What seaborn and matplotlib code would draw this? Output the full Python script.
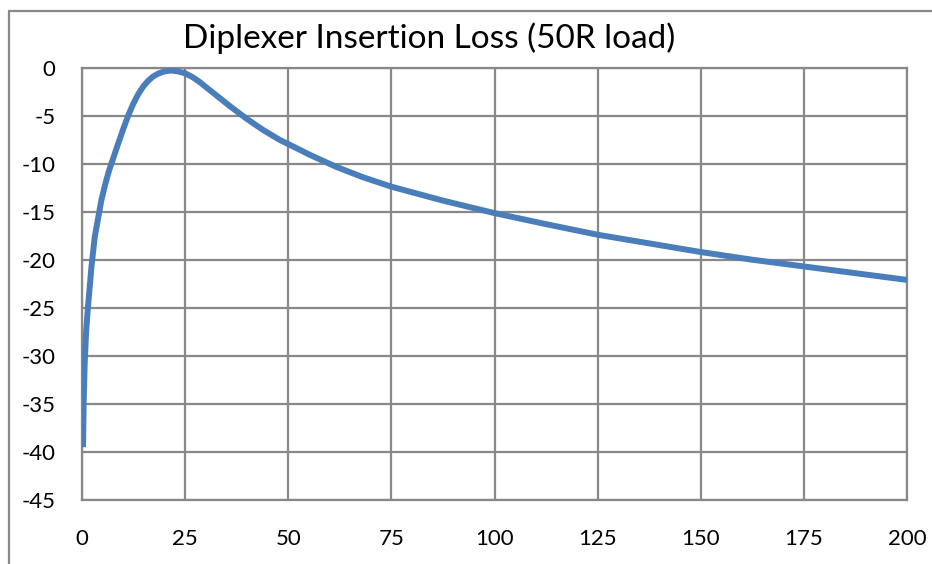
import matplotlib
matplotlib.use("Agg")
import matplotlib.pyplot as plt
from matplotlib.lines import Line2D
import seaborn as sns
import pandas as pd

title = "Diplexer Insertion Loss (50R load)"
freq = [0.25, 0.4, 0.65, 1.0, 1.45, 2.3, 3.1, 4.7, 5.6, 6.5, 7.6, 8.7, 10.0,
        11.2, 12.4, 13.6, 14.8, 16.0, 17.2, 18.4, 20.0, 21.5, 23.0, 25.0, 26.8,
        28.5, 31.7, 35.8, 39.8, 43.9, 48.0, 50.4, 55.3, 61.7, 68.0, 75.0, 87.5,
        100.0, 112.5, 125.0, 137.5, 150.0, 162.5, 175.0, 187.5, 200.0]
loss = [-39.5, -35.0, -30.8, -27.5, -24.9, -20.7, -17.6, -13.8, -12.2, -10.8,
        -9.4, -8.0, -6.4, -5.0, -3.8, -2.8, -2.0, -1.4, -0.95, -0.65, -0.4,
        -0.32, -0.38, -0.6, -1.0, -1.5, -2.6, -4.0, -5.3, -6.5, -7.55, -8.05,
        -9.1, -10.35, -11.4, -12.4, -13.85, -15.15, -16.3, -17.4, -18.3, -19.2,
        -20.0, -20.7, -21.4, -22.1]
xticks = [0, 25, 50, 75, 100, 125, 150, 175, 200]
yticks = [0, -5, -10, -15, -20, -25, -30, -35, -40, -45]

df = pd.DataFrame({"freq": freq, "loss": loss})

sns.set_style("white")
plt.rcParams['font.family'] = ['Lato', 'DejaVu Sans']

fig = plt.figure(figsize=(9.32, 5.64), dpi=100)
ax = fig.add_axes([82/932, 1 - 500/564, (907 - 82)/932, (500 - 67.5)/564])

grid_c = "#888888"
for xv in xticks:
    ax.axvline(xv, color=grid_c, lw=1.6, zorder=1)
for yv in yticks:
    ax.axhline(yv, color=grid_c, lw=1.6, zorder=1)

sns.lineplot(data=df, x="freq", y="loss", ax=ax, color="#4a7ebb", lw=4.3,
             zorder=3, solid_capstyle="butt", solid_joinstyle="round", sort=False)

ax.set_xlim(0, 200)
ax.set_ylim(-45, 0)
ax.set_xticks(xticks)
ax.set_yticks(yticks)
ax.set_xticklabels([str(v) for v in xticks])
ax.set_yticklabels([str(v) for v in yticks])
ax.set_xlabel("")
ax.set_ylabel("")
for s in ax.spines.values():
    s.set_color(grid_c)
    s.set_linewidth(1.6)
ax.tick_params(axis="both", which="major", length=9, width=1.6, color=grid_c,
               labelsize=16, labelcolor="black", direction="out")
ax.tick_params(axis="y", pad=10)
ax.tick_params(axis="x", pad=12)

fig.text(429/932, 1 - 38/564, title, ha="center", va="center",
         fontsize=24, color="black")

# outer chart border (cropped at right/bottom)
fig.add_artist(Line2D([8.5/932, 8.5/932], [0, 1 - 10.5/564],
                      transform=fig.transFigure, color=grid_c, lw=1.6))
fig.add_artist(Line2D([8.5/932, 1], [1 - 10.5/564, 1 - 10.5/564],
                      transform=fig.transFigure, color=grid_c, lw=1.6))

fig.savefig("out.png", dpi=100)
